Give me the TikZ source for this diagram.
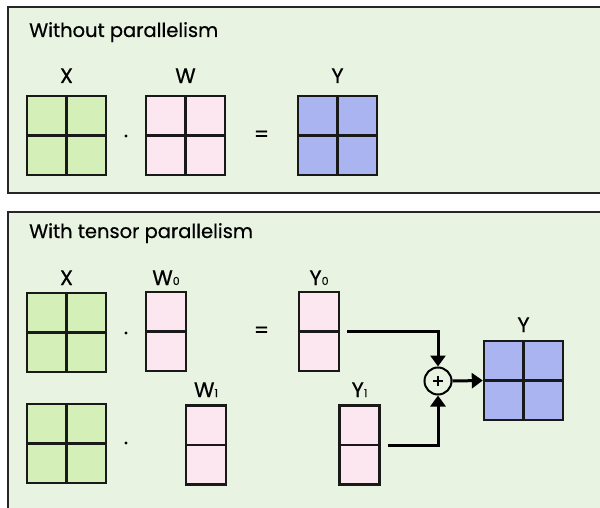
\documentclass[tikz,border=0pt]{standalone}
\usepackage{fontspec}
\setmainfont{Poppins}
\newfontfamily\medf{Poppins}[FakeBold=0.5]
\usetikzlibrary{arrows.meta,calc}
\definecolor{panelbg}{HTML}{E8F3E2}
\definecolor{xgreen}{HTML}{D4F0B8}
\definecolor{wpink}{HTML}{FCE7F0}
\definecolor{yblue}{HTML}{A9B4F0}
\tikzset{
  panel/.style={draw=black!85, line width=1.8pt, fill=panelbg},
  mat/.style={draw=black!90, line width=2.4pt, rectangle, inner sep=0pt, minimum width=79pt, minimum height=79pt,
    path picture={\draw[line width=2.4pt, black!90] (path picture bounding box.north) -- (path picture bounding box.south)
       (path picture bounding box.west) -- (path picture bounding box.east);}},
  colmat/.style={draw=black!90, line width=2.4pt, rectangle, inner sep=0pt, minimum width=40pt, minimum height=79pt,
    path picture={\draw[line width=2.4pt, black!90] (path picture bounding box.west) -- (path picture bounding box.east);}},
  lbl/.style={anchor=base, inner sep=0pt, font=\medf\fontsize{21}{21}\selectfont},
  title/.style={anchor=base west, inner sep=0pt, font=\medf\fontsize{19.5}{19.5}\selectfont},
  op/.style={inner sep=0pt, font=\medf\fontsize{21}{21}\selectfont},
  dotop/.style={circle, fill=black, inner sep=0pt, minimum size=3.2pt},
  conn/.style={line width=3pt, -{Triangle[length=11pt,width=15pt]}},
  sumnode/.style={circle, draw=black, line width=2pt, fill=panelbg, minimum size=27pt, inner sep=0pt,
    path picture={\draw[line width=2.2pt] ([xshift=-5pt]path picture bounding box.center) -- ([xshift=5pt]path picture bounding box.center)
      ([yshift=-5pt]path picture bounding box.center) -- ([yshift=5pt]path picture bounding box.center);}},
}
\newcommand{\sub}[1]{{\fontsize{11}{11}\selectfont #1}}
\begin{document}
\begin{tikzpicture}[x=1pt,y=-1pt]
\useasboundingbox (0,0) rectangle (600,508);
\fill[white] (0,0) rectangle (600,508);
% panels
\draw[panel] (8,7) rectangle (610,193);
\draw[panel] (8,212) rectangle (610,520);
\node[title] (t1) at (29,37) {Without parallelism};
\node[title] (t2) at (29,238) {With tensor parallelism};
% top
\node[mat, fill=xgreen] (X) at (66.5,135.5) {};
\node[mat, fill=wpink] (W) at (185.5,135.5) {};
\node[mat, fill=yblue] (Y) at (337.5,135.5) {};
\node[lbl] (Xl) at (66.5,83) {X};
\node[lbl] (Wl) at (185.5,83) {W};
\node[lbl] (Yl) at (337.5,83) {Y};
\node[dotop] (d1) at (126,136) {};
\node[op] (e1) at (261.5,136) {=};
% bottom row 1
\node[mat, fill=xgreen] (X1) at (66.5,332.5) {};
\node[colmat, fill=wpink] (W0) at (166,331.5) {};
\node[colmat, fill=wpink] (Y0) at (319,331.5) {};
\node[lbl] (X1l) at (66.5,285) {X};
\node[lbl] (W0l) at (166,285) {W\sub{0}};
\node[lbl] (Y0l) at (319,285) {Y\sub{0}};
\node[dotop] (d2) at (126,333) {};
\node[op] (e2) at (261.5,332) {=};
% bottom row 2
\node[mat, fill=xgreen] (X2) at (66.5,443.5) {};
\node[colmat, fill=wpink] (W1) at (206,445) {};
\node[colmat, fill=wpink] (Y1) at (359.5,445) {};
\node[lbl] (W1l) at (206,397) {W\sub{1}};
\node[lbl] (Y1l) at (359.5,397) {Y\sub{1}};
\node[dotop] (d3) at (126,443) {};
% sum
\node[sumnode] (plus) at (438,381) {};
\node[mat, fill=yblue] (Ys) at (523.5,380.5) {};
\node[lbl] (Ysl) at (523.5,332) {Y};
\draw[conn] ([xshift=7pt]Y0.east) -| (plus.north);
\draw[conn] ([xshift=7pt]Y1.east) -| (plus.south);
\draw[conn] (plus.east) -- (Ys.west);
\end{tikzpicture}
\end{document}
